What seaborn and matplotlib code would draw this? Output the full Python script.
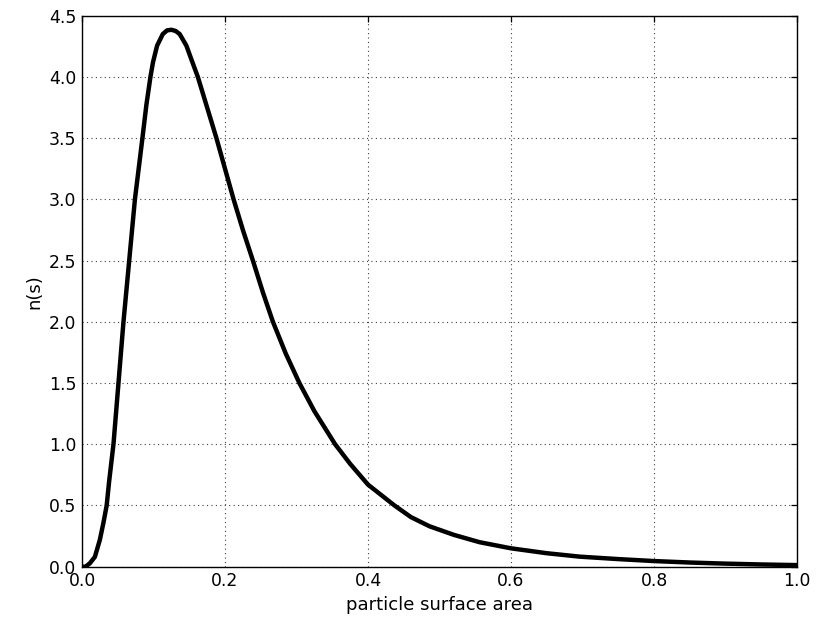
import matplotlib
matplotlib.use("Agg")
import matplotlib.pyplot as plt
import seaborn as sns
import pandas as pd

# values
surface_area = [0.000, 0.005, 0.011, 0.018, 0.025, 0.030, 0.0345, 0.038, 0.044,
                0.051, 0.0545, 0.058, 0.066, 0.074, 0.0845, 0.090, 0.0957,
                0.0993, 0.105, 0.113, 0.119, 0.125, 0.131, 0.1366, 0.146,
                0.1544, 0.162, 0.175, 0.188, 0.212, 0.225, 0.239, 0.253, 0.267,
                0.285, 0.304, 0.325, 0.354, 0.375, 0.400, 0.437, 0.460, 0.486,
                0.520, 0.556, 0.600, 0.650, 0.696, 0.750, 0.800, 0.850, 0.900,
                0.950, 1.000]
n_s = [0.0, 0.0, 0.028, 0.08, 0.22, 0.36, 0.50, 0.70, 1.00,
       1.50, 1.75, 2.00, 2.50, 3.00, 3.50, 3.77, 4.00,
       4.12, 4.255, 4.35, 4.38, 4.385, 4.375, 4.35, 4.255,
       4.12, 4.00, 3.75, 3.50, 3.00, 2.75, 2.50, 2.24, 2.00,
       1.74, 1.50, 1.27, 1.00, 0.84, 0.67, 0.50, 0.405, 0.33,
       0.26, 0.20, 0.15, 0.11, 0.082, 0.062, 0.046, 0.034, 0.025,
       0.018, 0.013]
x_ticks = [0.0, 0.2, 0.4, 0.6, 0.8, 1.0]
y_ticks = [0.0, 0.5, 1.0, 1.5, 2.0, 2.5, 3.0, 3.5, 4.0, 4.5]

df = pd.DataFrame({"s": surface_area, "n": n_s})

sns.set_style("white")
plt.rcParams["font.family"] = ["DejaVu Sans"]
plt.rcParams["text.color"] = "black"
plt.rcParams["axes.labelcolor"] = "black"

fig = plt.figure(figsize=(8.25, 6.25), dpi=100)
ax = fig.add_axes([0.0994, 0.0933, 0.8667, 0.8816])

sns.lineplot(data=df, x="s", y="n", color="black", linewidth=3.2, ax=ax,
             sort=False, solid_joinstyle="round", solid_capstyle="round")

ax.set_xlim(0, 1.0)
ax.set_ylim(0, 4.5)
ax.set_xticks(x_ticks)
ax.set_yticks(y_ticks)
ax.set_xticklabels([f"{v:.1f}" for v in x_ticks])
ax.set_yticklabels([f"{v:.1f}" for v in y_ticks])
ax.grid(True, linestyle=(0, (1, 3)), color="0.25", linewidth=0.8)
ax.tick_params(direction="in", length=4.2, width=0.9, top=True, right=True,
               labelsize=12.4, colors="black", pad=4)
for sp in ax.spines.values():
    sp.set_visible(True)
    sp.set_color("black")
    sp.set_linewidth(1.0)
ax.set_xlabel("particle surface area", fontsize=13, color="black")
ax.set_ylabel("n(s)", fontsize=13, color="black")

fig.savefig("out.png", dpi=100)
